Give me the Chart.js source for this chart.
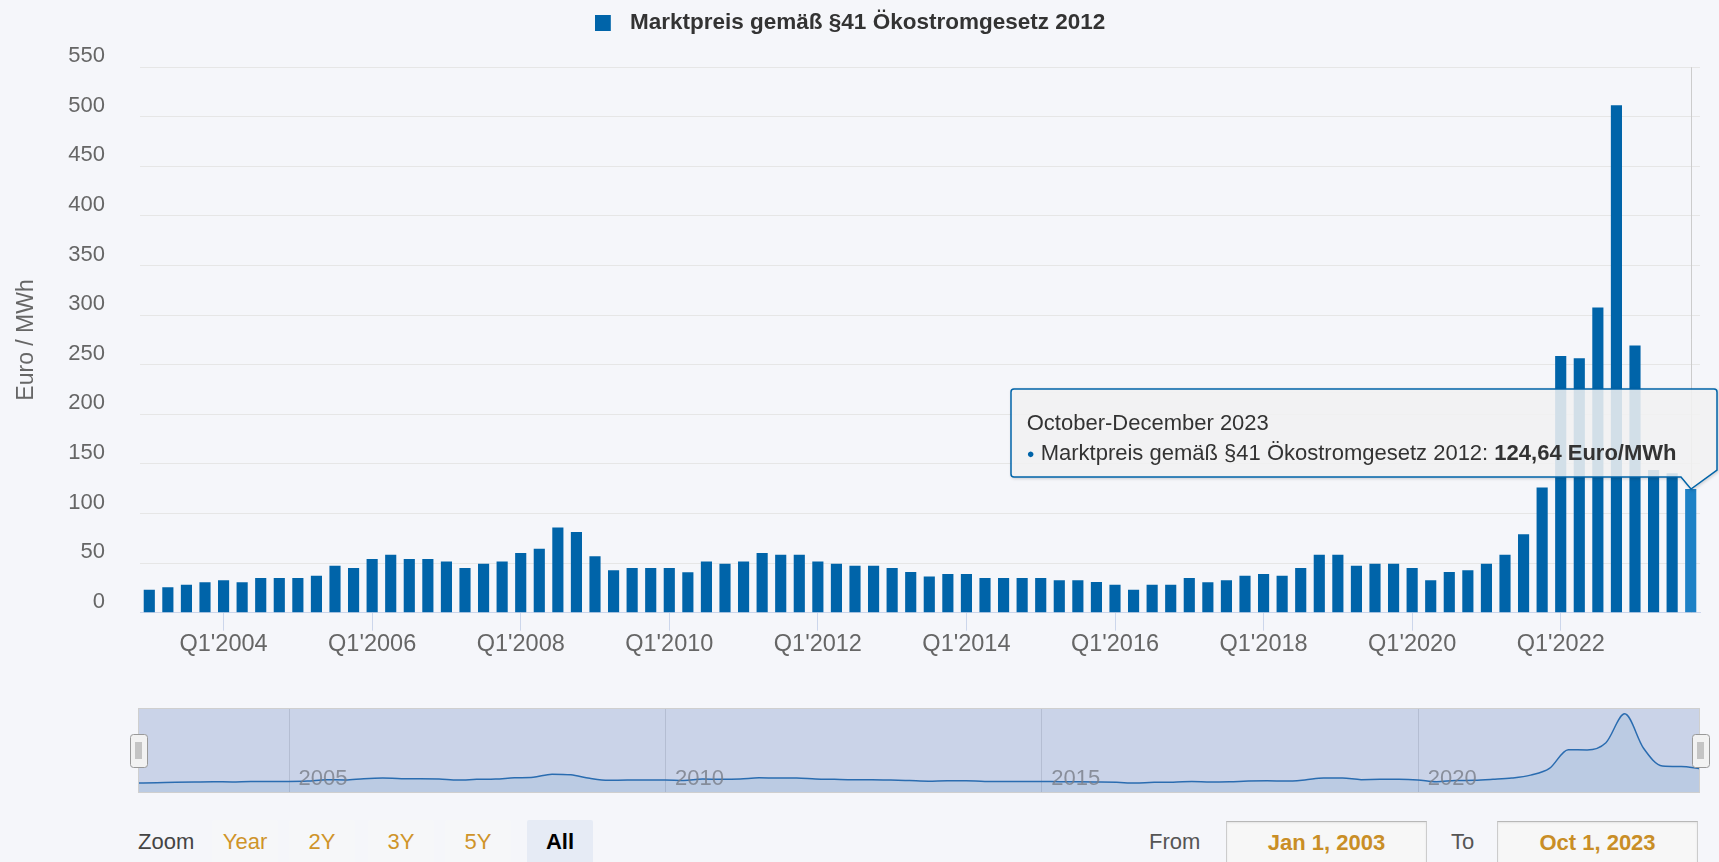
<!DOCTYPE html>
<html>
<head>
<meta charset="utf-8">
<title>Marktpreis gemäß §41 Ökostromgesetz 2012</title>
<script src="https://cdn.jsdelivr.net/npm/chart.js@4.4.1/dist/chart.umd.min.js"></script>
<style>
    html, body { margin: 0; padding: 0; background: #f5f6fa; overflow: hidden; }
    body { width: 1719px; height: 862px; position: relative; font-family: 'Liberation Sans', Arial, sans-serif; }
    #mainChart { position: absolute; left: 0; top: 0; }
    #navChart { position: absolute; left: 0; top: 700px; }
    #tooltip { position: absolute; pointer-events: none; opacity: 0; }
    #tooltip svg { position: absolute; left: 0; top: 0; overflow: visible; filter: drop-shadow(1px 1px 1.5px rgba(0,0,0,0.18)); }
    #tooltip .text { position: absolute; left: 16px; top: 19px; font-size: 22px; line-height: 29.5px; color: #333; white-space: nowrap; }
    #tipDot { font-size: 13px; vertical-align: 2px; }
    .label { position: absolute; top: 820px; font-size: 22px; line-height: 44px; color: #444; }
    .btn { position: absolute; top: 820px; width: 66px; height: 44px; line-height: 44px; font-size: 22px; text-align: center; color: #cf9429; background: #f6f7f9; border-radius: 2px; }
    .btn.active { background: #e6ebf5; color: #000; font-weight: bold; }
    .input { position: absolute; top: 821px; width: 201px; height: 44px; box-sizing: border-box; border: 1px solid #cccccc; border-top-color: #b8b8b8; box-shadow: inset 0 1px 2px rgba(0,0,0,0.08); background: #f7f7f7; text-align: center; line-height: 42px; font-size: 22px; font-weight: bold; color: #c98e26; }
</style>
</head>
<body>
<canvas id="mainChart" width="1719" height="690"></canvas>
<canvas id="navChart" width="1719" height="100"></canvas>

<div id="tooltip">
    <svg id="tipShape"><path id="tipPath"></path></svg>
    <div class="text">
        <div id="tipTitle"></div>
        <div><span id="tipDot">●</span> <span id="tipName"></span>: <b id="tipValue"></b></div>
    </div>
</div>

<div class="label" style="left:138px">Zoom</div>
<div class="btn" style="left:212px">Year</div>
<div class="btn" style="left:289px">2Y</div>
<div class="btn" style="left:368px">3Y</div>
<div class="btn" style="left:445px">5Y</div>
<div class="btn active" style="left:527px">All</div>
<div class="label" style="left:1149px; color:#555">From</div>
<div class="input" style="left:1226px">Jan 1, 2003</div>
<div class="label" style="left:1451px; color:#555">To</div>
<div class="input" style="left:1497px">Oct 1, 2023</div>

<script>
const seriesName = 'Marktpreis gemäß §41 Ökostromgesetz 2012';
const unit = 'Euro/MWh';

const years = [2003, 2004, 2005, 2006, 2007, 2008, 2009, 2010, 2011, 2012, 2013,
    2014, 2015, 2016, 2017, 2018, 2019, 2020, 2021, 2022, 2023];
const quarterNames = ['Q1', 'Q2', 'Q3', 'Q4'];
const quarterMonths = ['January-March', 'April-June', 'July-September', 'October-December'];

// Euro / MWh per quarter, Q1 2003 .. Q4 2023
const prices = [
    23.1, 25.6, 28.2, 30.6,
    32.6, 30.6, 34.9, 34.9,
    34.9, 37.2, 47.3, 45.0,
    54.1, 58.4, 54.1, 54.1,
    51.7, 45.0, 49.3, 51.7,
    60.1, 64.4, 86.0, 81.3,
    56.8, 42.7, 45.0, 45.0,
    45.0, 40.7, 51.7, 49.3,
    51.7, 60.1, 58.4, 58.4,
    51.7, 49.3, 47.3, 47.3,
    45.0, 41.0, 36.6, 39.0,
    39.0, 34.9, 34.9, 34.9,
    34.9, 32.6, 32.6, 30.9,
    28.2, 23.1, 28.2, 28.2,
    34.9, 30.6, 32.6, 37.2,
    39.0, 37.2, 45.0, 58.4,
    58.4, 47.3, 49.3, 49.3,
    45.0, 32.6, 41.0, 42.7,
    49.3, 58.4, 79.2, 126.3,
    258.8, 256.5, 307.8, 511.6,
    269.3, 144.0, 140.7, 124.64
];

const xTickLabels = ["Q1'2004", "Q1'2006", "Q1'2008", "Q1'2010", "Q1'2012",
    "Q1'2014", "Q1'2016", "Q1'2018", "Q1'2020", "Q1'2022"];
const navigatorYears = ['2005', '2010', '2015', '2020'];

const categories = [];
years.forEach(y => quarterNames.forEach(q => categories.push(q + "'" + y)));

const barColor = '#0064a9';
const barHover = '#1d81c6';

Chart.defaults.font.family = "'Liberation Sans', Arial, sans-serif";
Chart.defaults.color = '#666';

// legend symbol: 16px square, with room to its right before the text
const legendSymbol = document.createElement('canvas');
legendSymbol.width = 24;
legendSymbol.height = 16;
const symCtx = legendSymbol.getContext('2d');
symCtx.fillStyle = barColor;
symCtx.fillRect(0, 0, 16, 16);

const legendGap = {
    id: 'legendGap',
    beforeInit(chart) {
        const fit = chart.legend.fit;
        chart.legend.fit = function () {
            fit.call(this);
            this.height += 22.7;
        };
    }
};

const crosshair = {
    id: 'crosshair',
    beforeDatasetsDraw(chart) {
        const active = chart.getActiveElements();
        if (!active.length) return;
        const x = Math.round(active[0].element.x) + 0.5;
        const {ctx, chartArea} = chart;
        ctx.save();
        ctx.strokeStyle = '#cccccc';
        ctx.lineWidth = 1;
        ctx.beginPath();
        ctx.moveTo(x, chartArea.top);
        ctx.lineTo(x, chartArea.bottom);
        ctx.stroke();
        ctx.restore();
    }
};

function externalTooltip(context) {
    const {chart, tooltip} = context;
    const box = document.getElementById('tooltip');
    if (tooltip.opacity === 0 || !tooltip.dataPoints || !tooltip.dataPoints.length) {
        box.style.opacity = 0;
        return;
    }
    const point = tooltip.dataPoints[0];
    const i = point.dataIndex;
    const bar = point.element;

    document.getElementById('tipTitle').textContent =
        quarterMonths[i % 4] + ' ' + years[Math.floor(i / 4)];
    document.getElementById('tipDot').style.color = barColor;
    document.getElementById('tipName').textContent = point.dataset.label;
    document.getElementById('tipValue').textContent =
        point.raw.toFixed(2).replace('.', ',') + ' ' + unit;

    const tipX = chart.canvas.offsetLeft + bar.x;
    const tipY = chart.canvas.offsetTop + bar.y;
    const w = 706, h = 88, r = 3;
    const left = tipX - 680;
    const top = tipY - 100;
    const cx = tipX - left, cy = tipY - top;

    const path = document.getElementById('tipPath');
    path.setAttribute('d',
        `M ${r} 0 H ${w - r} Q ${w} 0 ${w} ${r} V ${h - 7} L ${cx} ${cy} L ${cx - 10} ${h} ` +
        `H ${r} Q 0 ${h} 0 ${h - r} V ${r} Q 0 0 ${r} 0 Z`);
    path.setAttribute('fill', 'rgba(247,247,247,0.85)');
    path.setAttribute('stroke', barColor);
    path.setAttribute('stroke-width', '1.5');
    const svg = document.getElementById('tipShape');
    svg.setAttribute('width', w + 10);
    svg.setAttribute('height', cy + 5);

    box.style.left = left + 'px';
    box.style.top = top + 'px';
    box.style.opacity = 1;
}

const mainChart = new Chart(document.getElementById('mainChart'), {
    type: 'bar',
    data: {
        labels: categories,
        datasets: [{
            label: seriesName,
            data: prices,
            backgroundColor: barColor,
            hoverBackgroundColor: barHover,
            borderWidth: 0,
            categoryPercentage: 1,
            barPercentage: 0.6
        }]
    },
    options: {
        responsive: false,
        animation: false,
        events: [],
        layout: { padding: { left: 0, right: 19, top: 0, bottom: 0 } },
        scales: {
            x: {
                grid: {
                    offset: false,
                    drawOnChartArea: false,
                    tickLength: 18,
                    color: ctx => (ctx.tick && ctx.tick.label) ? '#ccd6eb' : 'transparent'
                },
                border: { color: '#ccd6eb', width: 1 },
                ticks: {
                    autoSkip: false,
                    maxRotation: 0,
                    padding: 0,
                    color: '#666',
                    font: { size: 23.5 },
                    callback(value) {
                        const label = this.getLabelForValue(value);
                        return xTickLabels.includes(label) ? label : '';
                    }
                },
                afterFit(scale) { scale.height = 77.3; }
            },
            y: {
                min: 0,
                max: 550,
                grid: { color: '#e6e6e6', drawTicks: false },
                border: { display: false },
                ticks: { stepSize: 50, padding: 35, labelOffset: -11, color: '#666', font: { size: 22 } },
                title: { display: true, text: 'Euro / MWh', color: '#666', font: { size: 23 }, padding: { top: 13 } },
                afterFit(scale) { scale.width = 140; }
            }
        },
        plugins: {
            legend: {
                position: 'top',
                labels: {
                    usePointStyle: true,
                    pointStyle: legendSymbol,
                    pointStyleWidth: 24,
                    boxHeight: 16,
                    padding: 12,
                    color: '#333',
                    font: { size: 22.5, weight: 'bold' }
                }
            },
            tooltip: { enabled: false, external: externalTooltip }
        }
    },
    plugins: [legendGap, crosshair]
});

// hovered state of the last quarter, as in the screenshot
const lastQuarter = [{ datasetIndex: 0, index: prices.length - 1 }];
mainChart.setActiveElements(lastQuarter);
mainChart.tooltip.setActiveElements(lastQuarter, { x: 0, y: 0 });
mainChart.update();

const navigatorFrame = {
    id: 'navigatorFrame',
    beforeDatasetsDraw(chart) {
        const {ctx, chartArea, scales} = chart;
        ctx.save();
        ctx.fillStyle = '#cad3e8';
        ctx.fillRect(chartArea.left, chartArea.top, chartArea.width, chartArea.height);
        ctx.strokeStyle = 'rgba(140,150,170,0.35)';
        ctx.lineWidth = 1;
        navigatorYears.forEach(y => {
            const x = Math.round(scales.x.getPixelForValue(categories.indexOf("Q1'" + y))) + 0.5;
            ctx.beginPath();
            ctx.moveTo(x, chartArea.top);
            ctx.lineTo(x, chartArea.bottom);
            ctx.stroke();
        });
        ctx.restore();
    },
    afterDatasetsDraw(chart) {
        const {ctx, chartArea, scales} = chart;
        ctx.save();
        ctx.font = "22px 'Liberation Sans', Arial, sans-serif";
        ctx.fillStyle = 'rgba(120,125,135,0.8)';
        ctx.textBaseline = 'alphabetic';
        navigatorYears.forEach(y => {
            const x = scales.x.getPixelForValue(categories.indexOf("Q1'" + y));
            ctx.fillText(y, x + 10, chartArea.bottom - 8);
        });
        ctx.strokeStyle = '#cfcfcf';
        ctx.strokeRect(chartArea.left + 0.5, chartArea.top + 0.5, chartArea.width - 1, chartArea.height - 1);

        // range handles at both ends
        const cy = (chartArea.top + chartArea.bottom) / 2;
        [chartArea.left, chartArea.right].forEach(x => {
            ctx.fillStyle = '#f2f2f2';
            ctx.strokeStyle = '#999';
            ctx.lineWidth = 1;
            ctx.beginPath();
            ctx.roundRect(Math.round(x - 8.5) + 0.5, Math.round(cy - 16.5) + 0.5, 17, 33, 3);
            ctx.fill();
            ctx.stroke();
            ctx.fillStyle = '#c4c4c4';
            ctx.fillRect(Math.round(x - 3.5), Math.round(cy - 8.5), 7, 17);
        });
        ctx.restore();
    }
};

new Chart(document.getElementById('navChart'), {
    type: 'line',
    data: {
        labels: categories,
        datasets: [{
            data: prices,
            borderColor: '#2a6cb0',
            borderWidth: 1.5,
            backgroundColor: 'rgba(0,100,169,0.07)',
            fill: 'start',
            cubicInterpolationMode: 'monotone',
            pointRadius: 0
        }]
    },
    options: {
        responsive: false,
        animation: false,
        events: [],
        layout: { padding: { left: 138, right: 19, top: 8, bottom: 7 } },
        scales: {
            x: { display: false, offset: false },
            y: { display: false, min: -47, max: 553 }
        },
        plugins: { legend: { display: false }, tooltip: { enabled: false } }
    },
    plugins: [navigatorFrame]
});
</script>
</body>
</html>
